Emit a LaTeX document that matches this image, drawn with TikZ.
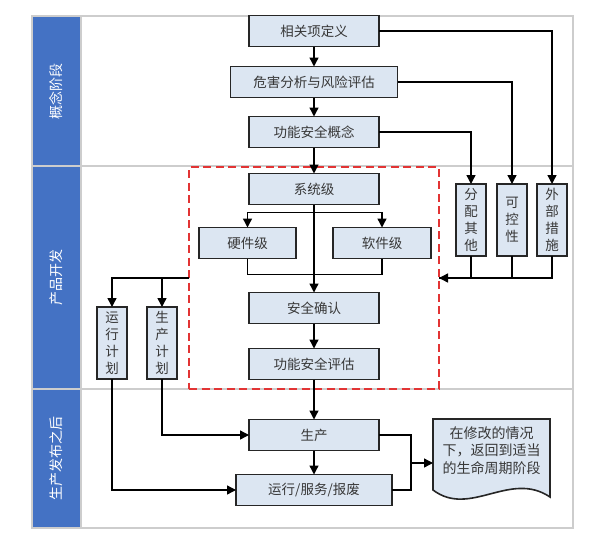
\documentclass[tikz,border=0pt]{standalone}
\usepackage{fontspec}
\setmainfont{Noto Sans CJK SC}
\usepackage{xcolor}
\usepackage{tikz}
\definecolor{laneblue}{RGB}{68, 114, 196}
\definecolor{boxblue}{RGB}{220, 230, 242}
\definecolor{framegray}{RGB}{205, 205, 205}
\definecolor{dashred}{RGB}{226, 52, 52}
\definecolor{textgray}{RGB}{55, 55, 55}
\usetikzlibrary{arrows.meta, positioning}

\begin{document}
\begin{tikzpicture}[
        x=1pt, y=-1pt,
        every node/.style={font=\fontsize{13.5}{17}\selectfont, text=textgray},
        box/.style={rectangle, minimum width=130pt, minimum height=31pt, inner sep=2pt, outer sep=0pt, draw=black!85, line width=1.6pt, fill=boxblue},
        vbox/.style={box, minimum width=30pt, minimum height=72pt, inner sep=1pt, align=center},
        lanetext/.style={rotate=90, text=white, font=\fontsize{14}{17}\selectfont},
        arrow/.style={line width=1.4pt, -{Triangle[length=9pt, width=9pt]}, color=black},
        link/.style={line width=1.4pt, color=black}
    ]
        \useasboundingbox (0,0) rectangle (594,546);

        % Swimlanes
        \fill[laneblue] (32,16) rectangle (81,528);
        \draw[framegray, line width=1.2pt] (32,16) rectangle (573,528);
        \draw[framegray, line width=1.2pt] (32,166) -- (573,166);
        \draw[framegray, line width=1.2pt] (32,389) -- (573,389);
        \draw[framegray, line width=1.2pt] (81,16) -- (81,528);
        \node[lanetext] (conceptlane) at (56.5,91) {概念阶段};
        \node[lanetext] (devlane) at (56.5,277.5) {产品开发};
        \node[lanetext] (releaselane) at (56.5,458) {生产发布之后};

        % Concept Phase
        \node[box] (item) at (314,31) {相关项定义};
        \node[box, minimum width=167pt, below=20pt of item] (hara) {危害分析与风险评估};
        \node[box, below=19pt of hara] (fsc) {功能安全概念};

        % Product Development
        \node[draw=dashred, dash pattern=on 8pt off 4.5pt, line width=1.6pt, minimum width=250pt, minimum height=222pt, outer sep=0pt] (dev) at (314,278) {};
        \node[box, below=26pt of fsc] (sys) {系统级};
        \node[box, minimum width=97pt, below=23pt of sys, xshift=-66.5pt] (hw) {硬件级};
        \node[box, minimum width=98pt, below=23pt of sys, xshift=68pt] (sw) {软件级};
        \node[box, below=88pt of sys] (val) {安全确认};
        \node[box, below=25pt of val] (fsa) {功能安全评估};

        % Other measures
        \node[vbox] (alloc) at (471,220) {分\\配\\其\\他};
        \node[vbox, right=11pt of alloc] (ctrl) {可\\控\\性};
        \node[vbox, right=10pt of ctrl] (ext) {外\\部\\措\\施};

        % Planning
        \node[vbox] (opplan) at (112,343) {运\\行\\计\\划};
        \node[vbox, right=20pt of opplan] (prodplan) {生\\产\\计\\划};

        % After Release
        \node[box, below=40pt of fsa] (prod) {生产};
        \node[box, minimum width=156pt, below=24pt of prod] (ops) {运行/服务/报废};
        \node[minimum width=117pt, minimum height=88pt, outer sep=0pt] (doc) at (491.5,463) {};
        \draw[line width=1.6pt, draw=black!85, fill=boxblue] (doc.north west) -- (doc.north east) -- (550,497) .. controls (510,470) and (470,518) .. (433,490) -- cycle;
        \node[align=center, below=4pt of doc.north, font=\fontsize{14}{17.5}\selectfont] (doctext) {在修改的情况\\下，返回到适当\\的生命周期阶段};

        % Arrows
        \draw[arrow] (item) -- (hara);
        \draw[arrow] (hara) -- (fsc);
        \draw[arrow] (fsc) -- (sys);
        \draw[arrow] (item.east) -| (ext.north);
        \draw[arrow] (hara.east) -| (ctrl.north);
        \draw[arrow] (fsc.east) -| (alloc.north);
        \draw[link] (alloc.south) |- (dev.east);
        \draw[link] (ctrl.south) |- (dev.east);
        \draw[arrow] (ext.south) |- (dev.east);

        \coordinate[below=8pt of sys] (fork);
        \coordinate[above=18pt of val] (join);
        \draw[arrow] (sys) -- (val);
        \draw[arrow] (fork) -| (hw.north);
        \draw[arrow] (fork) -| (sw.north);
        \draw[link] (hw.south) |- (join);
        \draw[link] (sw.south) |- (join);
        \draw[arrow] (val) -- (fsa);
        \draw[arrow] (fsa) -- (prod);
        \draw[arrow] (prod) -- (ops);

        \draw[arrow] (dev.west) -| (opplan.north);
        \draw[arrow] (dev.west) -| (prodplan.north);
        \draw[arrow] (prodplan.south) |- (prod.west);
        \draw[arrow] (opplan.south) |- (ops.west);

        \coordinate[left=22pt of doc.west] (merge);
        \draw[link] (prod.east) -| (merge);
        \draw[link] (ops.east) -| (merge);
        \draw[arrow] (merge) -- (doc.west);

    \end{tikzpicture}
\end{document}
